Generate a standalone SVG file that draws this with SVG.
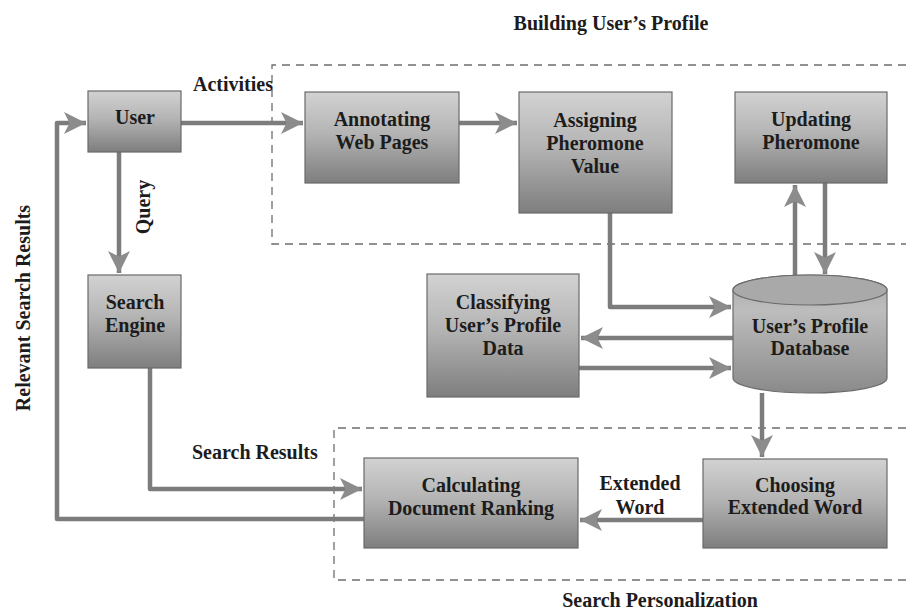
<svg xmlns="http://www.w3.org/2000/svg" width="906" height="611" viewBox="0 0 906 611">
<defs>
  <linearGradient id="boxg" x1="0" y1="0" x2="0" y2="1">
    <stop offset="0" stop-color="#d2d2d2"/>
    <stop offset="0.45" stop-color="#b4b4b4"/>
    <stop offset="1" stop-color="#7e7e7e"/>
  </linearGradient>
  <linearGradient id="cylg" x1="0" y1="0" x2="0" y2="1">
    <stop offset="0" stop-color="#a8a8a8"/>
    <stop offset="0.3" stop-color="#bdbdbd"/>
    <stop offset="1" stop-color="#8a8a8a"/>
  </linearGradient>
  <marker id="ah" viewBox="0 0 10 10" refX="10" refY="5" markerWidth="22" markerHeight="22" markerUnits="userSpaceOnUse" orient="auto">
    <path d="M0,0 L10,5 L0,10 L2.5,5 Z" fill="#8c8c8c"/>
  </marker>
</defs>
<style>
  .box{fill:url(#boxg);stroke:#6a6a6a;stroke-width:1.2}
  .t{font-family:"Liberation Serif","Times New Roman",serif;font-weight:bold;font-size:20px;fill:#1c1c1c;text-anchor:middle}
  .ts{font-family:"Liberation Serif","Times New Roman",serif;font-weight:bold;font-size:20px;fill:#1c1c1c}
  .dash{fill:none;stroke:#6e6e6e;stroke-width:1.3;stroke-dasharray:8 6}
  .ca{fill:none;stroke:#7c7c7c;stroke-width:4.5;stroke-linejoin:round;marker-end:url(#ah)}
</style>
<rect width="906" height="611" fill="#ffffff"/>

<g id="regions">
  <path class="dash" d="M906 65 H272 V244 H906"/>
  <path class="dash" d="M906 428 H334 V580 H906"/>
  <text class="t" x="611" y="30">Building User’s Profile</text>
  <text class="t" x="660" y="607">Search Personalization</text>
</g>

<g id="connectors">
  <path class="ca" d="M181 123 H303"/>
  <path class="ca" d="M459 123 H517"/>
  <path class="ca" d="M610 213 V307 H731"/>
  <path class="ca" d="M795 276 V185"/>
  <path class="ca" d="M825 183 V274"/>
  <path class="ca" d="M733 338 H581"/>
  <path class="ca" d="M579 368 H731"/>
  <path class="ca" d="M762 393 V457"/>
  <path class="ca" d="M703 520 H580"/>
  <path class="ca" d="M150 368 V489 H362"/>
  <path class="ca" d="M119 152 V273"/>
  <path class="ca" d="M364 519 H57 V123 H86"/>
  <text class="ts" x="193" y="91">Activities</text>
  <text class="ts" transform="translate(150,207) rotate(-90)" text-anchor="middle">Query</text>
  <text class="ts" x="192" y="459">Search Results</text>
  <text class="t" x="640" y="490">Extended</text>
  <text class="t" x="640" y="514">Word</text>
  <text class="ts" transform="translate(30,308) rotate(-90)" text-anchor="middle">Relevant Search Results</text>
</g>

<g id="user">
  <rect class="box" x="88" y="91" width="93" height="61"/>
  <text class="t" x="135" y="124">User</text>
</g>
<g id="annotating">
  <rect class="box" x="305" y="92" width="154" height="91"/>
  <text class="t" x="382" y="126">Annotating</text>
  <text class="t" x="382" y="149">Web Pages</text>
</g>
<g id="assigning">
  <rect class="box" x="519" y="92" width="153" height="121"/>
  <text class="t" x="595" y="127">Assigning</text>
  <text class="t" x="595" y="150">Pheromone</text>
  <text class="t" x="595" y="173">Value</text>
</g>
<g id="updating">
  <rect class="box" x="735" y="92" width="152" height="91"/>
  <text class="t" x="811" y="126">Updating</text>
  <text class="t" x="811" y="149">Pheromone</text>
</g>
<g id="search-engine">
  <rect class="box" x="88" y="275" width="93" height="93"/>
  <text class="t" x="135" y="309">Search</text>
  <text class="t" x="135" y="332">Engine</text>
</g>
<g id="classifying">
  <rect class="box" x="427" y="274" width="152" height="123"/>
  <text class="t" x="503" y="309">Classifying</text>
  <text class="t" x="503" y="332">User’s Profile</text>
  <text class="t" x="503" y="355">Data</text>
</g>
<g id="database">
  <path d="M733 290 A77 15 0 0 1 887 290 V378 A77 15 0 0 1 733 378 Z" fill="url(#cylg)" stroke="#6a6a6a" stroke-width="1.2"/>
  <ellipse cx="810" cy="290" rx="77" ry="15" fill="#a9a9a9" stroke="#6a6a6a" stroke-width="1.2"/>
  <text class="t" x="810" y="333">User’s Profile</text>
  <text class="t" x="810" y="355">Database</text>
</g>
<g id="calculating">
  <rect class="box" x="364" y="458" width="214" height="90"/>
  <text class="t" x="471" y="492">Calculating</text>
  <text class="t" x="471" y="515">Document Ranking</text>
</g>
<g id="choosing">
  <rect class="box" x="703" y="459" width="184" height="89"/>
  <text class="t" x="795" y="492">Choosing</text>
  <text class="t" x="795" y="514">Extended Word</text>
</g>
</svg>
